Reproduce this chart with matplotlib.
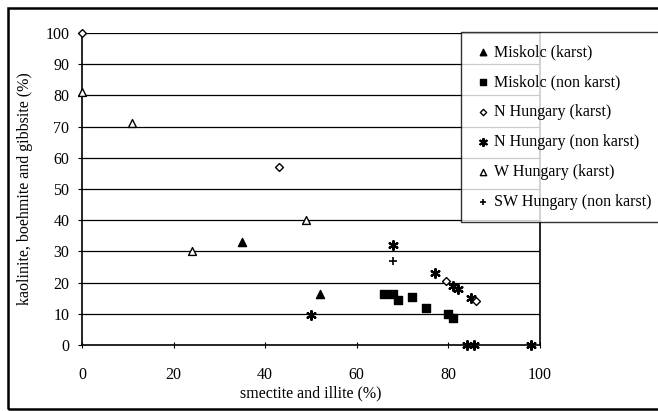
import matplotlib
matplotlib.use('Agg')
import matplotlib.pyplot as plt
from matplotlib.patches import Rectangle

plt.rcParams['font.family'] = ['Liberation Serif', 'DejaVu Serif']

# smectite + illite (%) vs kaolinite + boehmite + gibbsite (%)
miskolc_karst_x = [35, 52]
miskolc_karst_y = [33, 16.5]

miskolc_nonkarst_x = [66, 68, 69, 72, 75, 80, 81]
miskolc_nonkarst_y = [16.5, 16.5, 14.5, 15.5, 12, 10, 8.5]

nhu_karst_x = [0, 43, 79.5, 86]
nhu_karst_y = [100, 57, 20.5, 14]

nhu_nonkarst_x = [50, 68, 77, 81, 82, 85, 84, 85.5, 98]
nhu_nonkarst_y = [9.5, 32, 23, 19, 18, 15, 0, 0, 0]

whu_karst_x = [0, 11, 24, 49]
whu_karst_y = [81, 71, 30, 40]

swhu_nonkarst_x = [68]
swhu_nonkarst_y = [27]

labels = [
    'Miskolc (karst)',
    'Miskolc (non karst)',
    'N Hungary (karst)',
    'N Hungary (non karst)',
    'W Hungary (karst)',
    'SW Hungary (non karst)',
]

fig = plt.figure(figsize=(6.58, 4.11), dpi=100)
ax = fig.add_axes([82 / 658, 1 - 345 / 411, 458 / 658, 312 / 411])

# outer frame of the figure
fig.patches.append(Rectangle((8 / 658, 2 / 411), 1.0, 401 / 411,
                             transform=fig.transFigure, fill=False,
                             edgecolor='black', linewidth=1.8))

for v in range(10, 101, 10):
    ax.axhline(v, color='black', linewidth=0.9, zorder=1)

ax.scatter(miskolc_karst_x, miskolc_karst_y, marker='^', s=34, c='black',
           label=labels[0], zorder=3, clip_on=False)
ax.scatter(miskolc_nonkarst_x, miskolc_nonkarst_y, marker='s', s=32, c='black',
           label=labels[1], zorder=3, clip_on=False)
ax.scatter(nhu_karst_x, nhu_karst_y, marker='D', s=16, facecolors='white',
           edgecolors='black', linewidths=1.0, label=labels[2], zorder=4, clip_on=False)
ax.scatter(nhu_nonkarst_x, nhu_nonkarst_y, marker=(6, 2, 0), s=40, c='black',
           linewidths=1.6, label=labels[3], zorder=3, clip_on=False)
ax.scatter(whu_karst_x, whu_karst_y, marker='^', s=32, facecolors='white',
           edgecolors='black', linewidths=1.0, label=labels[4], zorder=4, clip_on=False)
ax.scatter(swhu_nonkarst_x, swhu_nonkarst_y, marker='+', s=36, c='black',
           linewidths=1.2, label=labels[5], zorder=3, clip_on=False)

ax.set_xlim(0, 100)
ax.set_ylim(0, 100)
ax.set_xticks(range(0, 101, 20))
ax.set_yticks(range(0, 101, 10))
ax.tick_params(axis='y', direction='out', length=3, pad=6, labelsize=11.5)
ax.tick_params(axis='x', direction='inout', length=5, pad=13, labelsize=11.5)
ax.spines['top'].set_visible(False)
for s in ('left', 'bottom', 'right'):
    ax.spines[s].set_linewidth(1.2)

ax.set_xlabel('smectite and illite (%)', fontsize=11.5, labelpad=2)
ax.set_ylabel('kaolinite, boehmite and gibbsite (%)', fontsize=11.5, labelpad=9)

leg = ax.legend(loc='upper left', bbox_to_anchor=(461 / 658, 1 - 32 / 411),
                bbox_transform=fig.transFigure, frameon=True, fancybox=False,
                edgecolor='black', fontsize=11.5, handletextpad=0.1,
                handlelength=1.2, labelspacing=0.88, borderpad=0.75,
                borderaxespad=0, scatterpoints=1, markerscale=0.8)
leg.get_frame().set_linewidth(1.0)
leg.set_zorder(10)

fig.savefig('out.png', dpi=100)
